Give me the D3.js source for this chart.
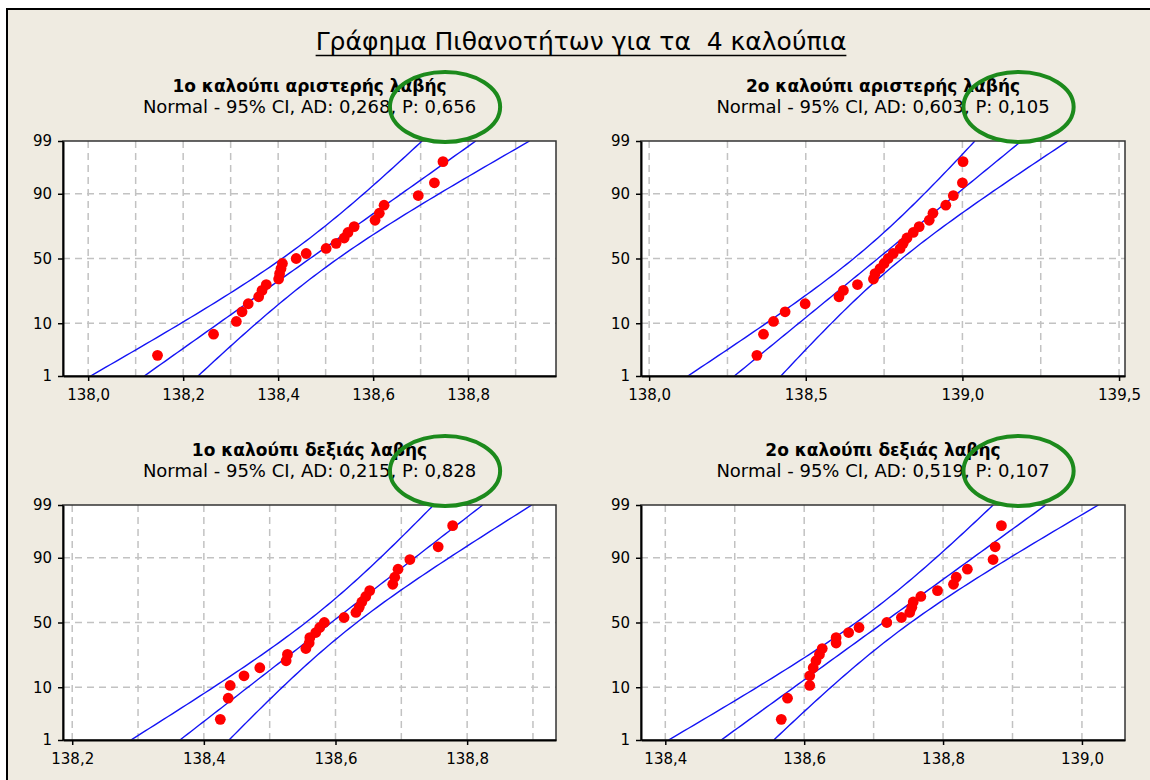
<!DOCTYPE html>
<html>
<head>
<meta charset="utf-8">
<script src="https://cdn.jsdelivr.net/npm/d3@7"></script>
<style>
  body { margin: 0; background: #ffffff; }
  svg { display: block; }
  text { font-family: "DejaVu Sans", "Noto Sans", sans-serif; fill: #000; }
</style>
</head>
<body>
<svg id="chart" width="1150" height="780"></svg>
<script>
// ---- Chart text ----
const chartTitle = "Γράφημα Πιθανοτήτων για τα  4 καλούπια";
const panelTitles = [
  "1ο καλούπι αριστερής λαβής",
  "2ο καλούπι αριστερής λαβής",
  "1ο καλούπι δεξιάς λαβής",
  "2ο καλούπι δεξιάς λαβής"
];
const adValues = ["0,268", "0,603", "0,215", "0,519"];
const pValues  = ["0,656", "0,105", "0,828", "0,107"];

// ---- Measurements per mold (25 each) ----
const mold1Left = [138.146, 138.264, 138.312, 138.324, 138.337, 138.359, 138.366, 138.375, 138.401, 138.403,
                   138.406, 138.409, 138.438, 138.459, 138.501, 138.522, 138.539, 138.547, 138.560, 138.604,
                   138.613, 138.623, 138.695, 138.729, 138.747];
const mold2Left = [138.344, 138.365, 138.397, 138.434, 138.498, 138.606, 138.620, 138.665, 138.716, 138.721,
                   138.737, 138.750, 138.763, 138.779, 138.801, 138.811, 138.823, 138.843, 138.862, 138.894,
                   138.906, 138.947, 138.971, 139.000, 139.002];
const mold1Right = [138.425, 138.437, 138.440, 138.461, 138.485, 138.525, 138.527, 138.555, 138.560, 138.561,
                    138.570, 138.576, 138.583, 138.613, 138.631, 138.636, 138.640, 138.646, 138.652, 138.687,
                    138.690, 138.695, 138.713, 138.756, 138.778];
const mold2Right = [138.567, 138.576, 138.608, 138.608, 138.613, 138.617, 138.622, 138.626, 138.646, 138.646,
                    138.664, 138.679, 138.719, 138.740, 138.752, 138.755, 138.757, 138.768, 138.792, 138.815,
                    138.819, 138.835, 138.872, 138.875, 138.884];
const seriesList = [mold1Left, mold2Left, mold1Right, mold2Right];

// ---- Axes ----
const xDomains = [[137.947, 138.985], [137.974, 139.519], [138.186, 138.935], [138.365, 139.062]];
const xTicks = [[138.0, 138.2, 138.4, 138.6, 138.8], [138.0, 138.5, 139.0, 139.5],
                [138.2, 138.4, 138.6, 138.8], [138.4, 138.6, 138.8, 139.0]];
const xGridStart = [138.0, 138.0, 138.2, 138.4];
const xGridStep  = [0.1, 0.25, 0.1, 0.1];
const probTicks = [1, 10, 50, 90, 99];
const probGrid  = [10, 50, 90];

// ---- Layout ----
const W = 1150, H = 780;
const boxes = [
  { x: 63,  y: 141, w: 493, h: 235 },
  { x: 641, y: 141, w: 484, h: 235 },
  { x: 63,  y: 505, w: 493, h: 235 },
  { x: 641, y: 505, w: 484, h: 235 }
];

// Inverse standard normal CDF (Acklam)
function normInv(p) {
  const a = [-3.969683028665376e+01, 2.209460984245205e+02, -2.759285104469687e+02, 1.383577518672690e+02, -3.066479806614716e+01, 2.506628277459239e+00];
  const b = [-5.447609879822406e+01, 1.615858368580409e+02, -1.556989798598866e+02, 6.680131188771972e+01, -1.328068155288572e+01];
  const c = [-7.784894002430293e-03, -3.223964580411365e-01, -2.400758277161838e+00, -2.549732539343734e+00, 4.374664141464968e+00, 2.938163982698783e+00];
  const d = [7.784695709041462e-03, 3.224671290700398e-01, 2.445134137142996e+00, 3.754408661907416e+00];
  const pl = 0.02425, ph = 1 - pl;
  let q, r;
  if (p < pl) {
    q = Math.sqrt(-2 * Math.log(p));
    return (((((c[0]*q+c[1])*q+c[2])*q+c[3])*q+c[4])*q+c[5]) / ((((d[0]*q+d[1])*q+d[2])*q+d[3])*q+1);
  }
  if (p > ph) {
    q = Math.sqrt(-2 * Math.log(1 - p));
    return -(((((c[0]*q+c[1])*q+c[2])*q+c[3])*q+c[4])*q+c[5]) / ((((d[0]*q+d[1])*q+d[2])*q+d[3])*q+1);
  }
  q = p - 0.5; r = q * q;
  return (((((a[0]*r+a[1])*r+a[2])*r+a[3])*r+a[4])*r+a[5])*q / (((((b[0]*r+b[1])*r+b[2])*r+b[3])*r+b[4])*r+1);
}

const locale = d3.formatLocale({ decimal: ",", thousands: ".", grouping: [3], currency: ["", "€"] });
const fmt1 = locale.format(".1f");

const svg = d3.select("#chart");

// Window background and frame
svg.append("rect").attr("x", 0).attr("y", 0).attr("width", W).attr("height", H).attr("fill", "#ffffff");
svg.append("rect").attr("x", 7).attr("y", 9).attr("width", W + 20).attr("height", H + 20)
  .attr("fill", "#efebe1").attr("stroke", "#000").attr("stroke-width", 2);

// Main title, underlined
const titleText = svg.append("text")
  .attr("x", 581).attr("y", 50)
  .attr("text-anchor", "middle")
  .style("font-size", "25px")
  .style("white-space", "pre")
  .text(chartTitle);
const tb = titleText.node().getBBox();
svg.append("line")
  .attr("x1", tb.x).attr("x2", tb.x + tb.width)
  .attr("y1", 55.5).attr("y2", 55.5)
  .attr("stroke", "#000").attr("stroke-width", 1.5);

const zLo = normInv(probTicks[0] / 100), zHi = normInv(probTicks[probTicks.length - 1] / 100);
const zCrit = normInv(0.975);

seriesList.forEach((values, k) => {
  const box = boxes[k];
  const g = svg.append("g");
  const x = d3.scaleLinear().domain(xDomains[k]).range([box.x, box.x + box.w]);
  const y = d3.scaleLinear().domain([zLo, zHi]).range([box.y + box.h, box.y]);
  const cx = box.x + box.w / 2;

  // Titles
  g.append("text")
    .attr("x", cx).attr("y", box.y - 49)
    .attr("text-anchor", "middle")
    .style("font-size", "17px").style("font-weight", "bold")
    .text(panelTitles[k]);

  const prefix = `Normal - 95% CI, AD: ${adValues[k]}, `;
  const pPart = `P: ${pValues[k]}`;
  const sub = g.append("text")
    .attr("x", cx).attr("y", box.y - 28)
    .attr("text-anchor", "middle")
    .style("font-size", "18px")
    .text(prefix + pPart);

  // Plot area
  g.append("rect")
    .attr("x", box.x).attr("y", box.y).attr("width", box.w).attr("height", box.h)
    .attr("fill", "#ffffff");

  const clipId = `clip${k}`;
  g.append("clipPath").attr("id", clipId)
    .append("rect").attr("x", box.x).attr("y", box.y).attr("width", box.w).attr("height", box.h);

  // Grid
  const gridX = d3.range(xGridStart[k], xDomains[k][1] + 1e-9, xGridStep[k]);
  g.append("g").selectAll("line").data(gridX).join("line")
    .attr("x1", v => x(v)).attr("x2", v => x(v))
    .attr("y1", box.y).attr("y2", box.y + box.h)
    .attr("stroke", "#c2c2c2").attr("stroke-width", 1.5).attr("stroke-dasharray", "7,5");
  g.append("g").selectAll("line").data(probGrid).join("line")
    .attr("x1", box.x).attr("x2", box.x + box.w)
    .attr("y1", p => y(normInv(p / 100))).attr("y2", p => y(normInv(p / 100)))
    .attr("stroke", "#c2c2c2").attr("stroke-width", 1.5).attr("stroke-dasharray", "7,5");

  // Fitted normal line with 95% confidence band
  const n = values.length;
  const mu = d3.mean(values);
  const sd = d3.deviation(values);
  const zs = d3.range(zLo, zHi + 1e-9, (zHi - zLo) / 80);
  const half = z => zCrit * sd * Math.sqrt(1 / n + z * z / (2 * n));
  const lineGen = d3.line().x(dd => x(dd[0])).y(dd => y(dd[1]));
  const curves = [
    zs.map(z => [mu + z * sd, z]),
    zs.map(z => [mu + z * sd - half(z), z]),
    zs.map(z => [mu + z * sd + half(z), z])
  ];
  g.append("g").attr("clip-path", `url(#${clipId})`)
    .selectAll("path").data(curves).join("path")
    .attr("d", lineGen)
    .attr("fill", "none").attr("stroke", "#1414f5").attr("stroke-width", 1.4);

  // Frame
  g.append("rect")
    .attr("x", box.x).attr("y", box.y).attr("width", box.w).attr("height", box.h)
    .attr("fill", "none").attr("stroke", "#333").attr("stroke-width", 1.5);

  // Axes
  const axX = d3.axisBottom(x).tickValues(xTicks[k]).tickFormat(fmt1).tickSize(5).tickSizeOuter(0);
  const gx = g.append("g").attr("transform", `translate(0,${box.y + box.h})`).call(axX);
  const axY = d3.axisLeft(y).tickValues(probTicks.map(p => normInv(p / 100)))
    .tickFormat((v, i) => String(probTicks[i])).tickSize(5).tickSizeOuter(0);
  const gy = g.append("g").attr("transform", `translate(${box.x},0)`).call(axY);
  [gx, gy].forEach(ax => {
    ax.select(".domain").attr("stroke", "#000").attr("stroke-width", 2);
    ax.selectAll(".tick line").attr("stroke", "#000").attr("stroke-width", 1.5);
    ax.selectAll(".tick text").style("font-size", "15px").style("font-family", "DejaVu Sans, sans-serif").attr("fill", "#000");
  });
  gx.selectAll(".tick text").attr("dy", "1.05em");
  gy.selectAll(".tick text").attr("x", -11);

  // Data points at median-rank plotting positions
  const sorted = values.slice().sort(d3.ascending);
  g.append("g").selectAll("circle").data(sorted).join("circle")
    .attr("cx", v => x(v))
    .attr("cy", (v, i) => y(normInv((i + 1 - 0.3) / (n + 0.4))))
    .attr("r", 5.4)
    .attr("fill", "#ff0000");

  // Highlight ring around the P value
  const node = sub.node();
  const full = node.getComputedTextLength();
  const startX = cx - full / 2;
  const pStart = startX + node.getSubStringLength(0, prefix.length);
  const pW = node.getSubStringLength(prefix.length, pPart.length);
  g.append("ellipse")
    .attr("cx", pStart + pW / 2 + 6).attr("cy", box.y - 34)
    .attr("rx", pW / 2 + 18).attr("ry", 35)
    .attr("fill", "none").attr("stroke", "#1c8a1c").attr("stroke-width", 4);
});
</script>
</body>
</html>
